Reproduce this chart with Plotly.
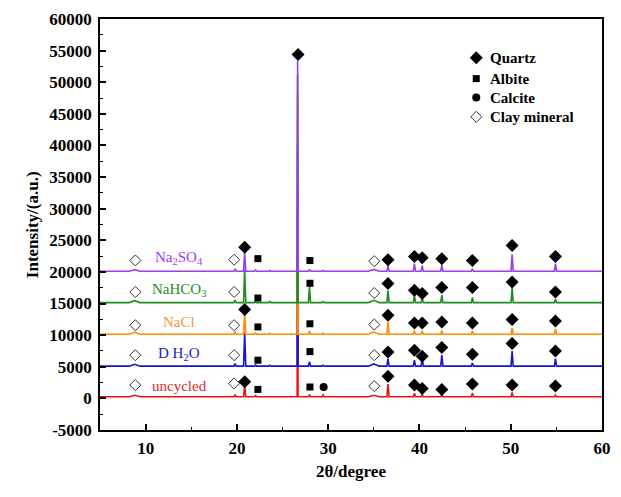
import plotly.graph_objects as go

# ---------------- data ----------------
series_names = ["uncycled", "D H2O", "NaCl", "NaHCO3", "Na2SO4"]
series_labels = ["uncycled", "D H<sub>2</sub>O", "NaCl", "NaHCO<sub>3</sub>", "Na<sub>2</sub>SO<sub>4</sub>"]
baselines = [250, 5100, 10150, 15150, 20100]

peak_pos = [8.8, 19.8, 20.85, 22.05, 23.6, 26.65, 27.95, 29.45, 35.0,
            36.55, 39.45, 40.3, 42.45, 45.8, 50.15, 54.9]
peak_h_uncycled = [250, 350, 1900, 200, 100, 30000, 350, 300, 250, 2000, 550, 400, 500, 600, 700, 250]
peak_h_dh2o     = [300, 400, 5300, 200, 150, 35000, 700, 150, 350, 1200, 950, 1250, 1730, 500, 2400, 1200]
peak_h_nacl     = [300, 400, 3400, 200, 150, 38000, 500, 150, 350, 1950, 600, 550, 600, 500, 1000, 850]
peak_h_nahco3   = [300, 400, 5200, 200, 150, 36000, 2500, 150, 350, 1900, 1200, 700, 1200, 800, 2300, 550]
peak_h_na2so4   = [250, 400, 3000, 200, 150, 33300, 300, 150, 300, 900, 1200, 900, 1000, 400, 2700, 1200]
peak_heights = [peak_h_uncycled, peak_h_dh2o, peak_h_nacl, peak_h_nahco3, peak_h_na2so4]

# phase markers (2theta, intensity)
quartz_x = [20.85, 26.7, 36.55, 39.45, 40.3, 42.45, 45.8, 50.15, 54.9,
            36.55, 39.45, 40.3, 42.45, 45.8, 50.15, 54.9,
            20.85, 36.55, 39.45, 40.3, 42.45, 45.8, 50.15, 54.9,
            36.55, 39.45, 40.3, 42.45, 45.8, 50.15, 54.9,
            20.85, 36.55, 39.45, 40.3, 42.45, 45.8, 50.15, 54.9]
quartz_y = [23900, 54400, 21930, 22450, 22250, 22090, 21820, 24190, 22450,
            18150, 17090, 16570, 17520, 17520, 18400, 16820,
            14040, 13150, 11930, 11930, 12090, 11930, 12470, 12250,
            7350, 7620, 6680, 8050, 6990, 8680, 7510,
            2620, 3520, 2100, 1580, 1420, 2260, 2100, 1940]
albite_x = [22.3, 22.3, 22.3, 22.3, 22.3, 28.0, 28.0, 28.0, 28.0, 28.0]
albite_y = [22100, 15870, 11300, 6040, 1420, 21800, 18200, 11800, 7400, 1800]
calcite_x = [29.5]
calcite_y = [1800]
clay_x = [8.87, 8.87, 8.87, 8.87, 8.87, 19.7, 19.7, 19.7, 19.7, 19.7, 35.05, 35.05, 35.05, 35.05, 35.05]
clay_y = [21820, 16820, 11570, 6830, 2100, 21930, 16820, 11570, 6830, 2360, 21700, 16660, 11680, 6830, 1940]

label_x = [13.7, 13.7, 13.7, 13.7, 13.7]
label_y = [1900, 7000, 12050, 17100, 22150]

legend_names = ["Quartz", "Albite", "Calcite", "Clay mineral"]

x_range = [5, 60]
x_tickvals = [10, 20, 30, 40, 50, 60]
y_range = [-5000, 60000]
y_tickvals = list(range(-5000, 60001, 5000))

# ---------------- styles ----------------
line_colors = ["#ee1111", "#1414d8", "#ff8c00", "#1e8c1e", "#9a3cf2"]
label_colors = ["#e02828", "#2020c8", "#f09a3a", "#2a8a2a", "#9a40ee"]
FONT = "Liberation Serif"
HALF_WIDTH = {8.8: 0.6, 35.0: 0.6, 26.65: 0.05}
W = 0.12


def build_line(base, heights):
    xs, ys = [x_range[0]], [base]
    for p, h in zip(peak_pos, heights):
        w = HALF_WIDTH.get(p, W)
        xs += [p - w, p, p + w]
        ys += [base, base + h, base]
    xs.append(x_range[1])
    ys.append(base)
    return xs, ys


fig = go.Figure()
for name, base, hts, col in zip(series_names, baselines, peak_heights, line_colors):
    xs, ys = build_line(base, hts)
    fig.add_trace(go.Scatter(x=xs, y=ys, mode="lines", name=name,
                             line=dict(color=col, width=1.6), showlegend=False,
                             hoverinfo="skip"))

marker_specs = [
    (quartz_x, quartz_y, dict(symbol="diamond", size=10, color="black")),
    (albite_x, albite_y, dict(symbol="square", size=7, color="black")),
    (calcite_x, calcite_y, dict(symbol="circle", size=8, color="black")),
    (clay_x, clay_y, dict(symbol="diamond-open", size=8.5, color="#333333", line=dict(width=1))),
]
for (mx, my, mk), nm in zip(marker_specs, legend_names):
    fig.add_trace(go.Scatter(x=mx, y=my, mode="markers", marker=mk, name=nm,
                             showlegend=False, cliponaxis=False))

# legend drawn on an overlay axis in 0..1 coordinates
leg_y = [0.906, 0.855, 0.809, 0.762]
for (mx, my, mk), nm, ly in zip(marker_specs, legend_names, leg_y):
    fig.add_trace(go.Scatter(x=[0.7495], y=[ly], mode="markers", marker=mk,
                             xaxis="x2", yaxis="y2", showlegend=False, hoverinfo="skip"))
    fig.add_annotation(x=0.772, y=ly, xref="paper", yref="paper", text="<b>%s</b>" % nm,
                       showarrow=False, xanchor="left", yanchor="middle",
                       font=dict(family=FONT, size=15, color="black"))

for lx, ly, lt, lc in zip(label_x, label_y, series_labels, label_colors):
    fig.add_annotation(x=lx, y=ly, text=lt, showarrow=False, xanchor="center", yanchor="middle",
                       font=dict(family=FONT, size=15, color=lc))

fig.add_annotation(x=-0.157, y=0.5, xref="paper", yref="paper", text="<b>Intensity/(a.u.)</b>",
                   textangle=-90, showarrow=False, font=dict(family=FONT, size=17, color="black"))
fig.add_annotation(x=0.5, y=-0.1, xref="paper", yref="paper", text="<b>2θ/degree</b>",
                   showarrow=False, yanchor="middle", font=dict(family=FONT, size=17, color="black"))

fig.update_layout(
    width=621, height=497,
    margin=dict(l=100, r=10, t=18, b=67),
    paper_bgcolor="white", plot_bgcolor="white",
    showlegend=False,
    xaxis=dict(range=x_range, tickvals=x_tickvals, ticktext=["<b>%d</b>" % v for v in x_tickvals],
               ticks="inside", ticklen=6, tickwidth=1.5,
               tickcolor="black", showline=True, linecolor="black", linewidth=1.5, mirror=True,
               showgrid=False, zeroline=False, ticklabelstandoff=2,
               tickfont=dict(family=FONT, size=17, color="black"),
               minor=dict(dtick=5, tick0=0, ticks="inside", ticklen=3, tickcolor="black", tickwidth=1.2)),
    yaxis=dict(range=y_range, tickvals=y_tickvals, ticktext=["<b>%d</b>" % v for v in y_tickvals],
               ticks="inside", ticklen=6, tickwidth=1.5, tickcolor="black",
               showline=True, linecolor="black", linewidth=1.5, mirror=True,
               showgrid=False, zeroline=False, ticklabelstandoff=3,
               tickfont=dict(family=FONT, size=17, color="black"),
               minor=dict(dtick=2500, tick0=0, ticks="inside", ticklen=3, tickcolor="black", tickwidth=1.2)),
    xaxis2=dict(range=[0, 1], overlaying="x", visible=False, fixedrange=True),
    yaxis2=dict(range=[0, 1], overlaying="y", visible=False, fixedrange=True),
)

fig.write_html("out.html")
